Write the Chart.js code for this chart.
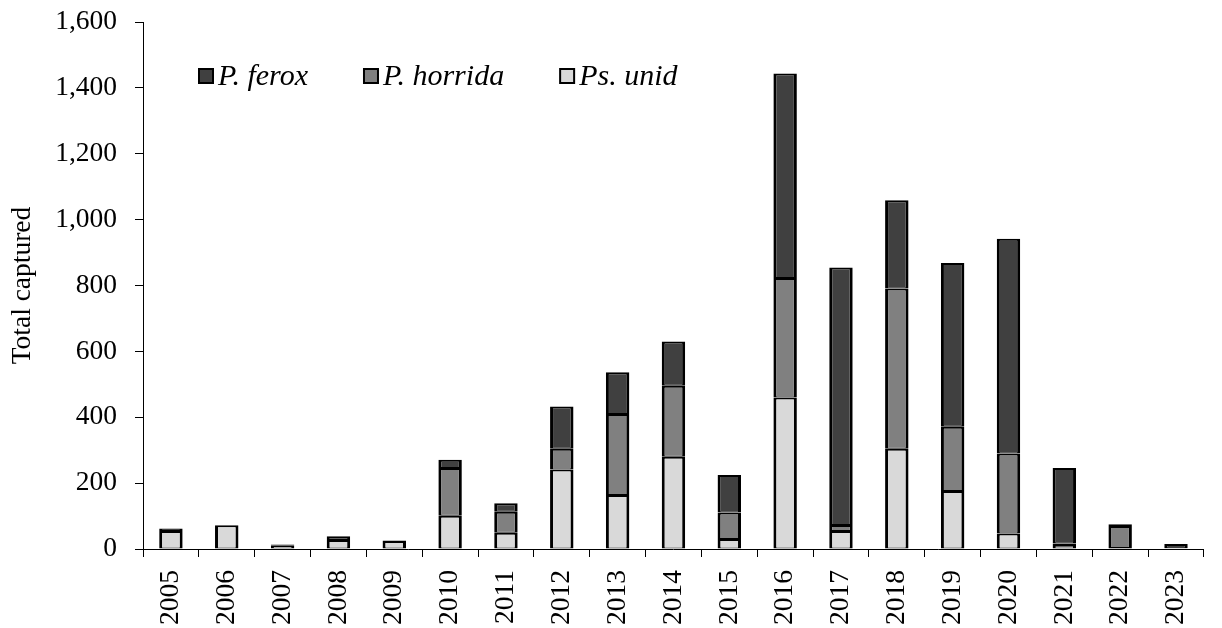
<!DOCTYPE html>
<html>
<head>
<meta charset="utf-8">
<title>Total captured by year</title>
<script src="https://cdn.jsdelivr.net/npm/chart.js@4/dist/chart.umd.min.js"></script>
<style>
  html, body { margin: 0; padding: 0; background: #ffffff; }
  #wrap { width: 1222px; height: 628px; }
</style>
</head>
<body>
<div id="wrap"><canvas id="chart" width="1222" height="628"></canvas></div>
<script>
// Capture counts per year, stacked by species
const years = ['2005', '2006', '2007', '2008', '2009', '2010', '2011', '2012', '2013', '2014',
               '2015', '2016', '2017', '2018', '2019', '2020', '2021', '2022', '2023'];
const psUnid   = [55, 72, 10, 27, 24, 101, 49, 241, 164, 280, 30, 460, 55, 304, 176, 47, 12, 3, 2];
const pHorrida = [0, 0, 0, 0, 0, 145, 64, 63, 246, 216, 81, 363, 18, 487, 195, 243, 5, 67, 0];
const pFerox   = [7, 0, 4, 12, 2, 25, 26, 129, 127, 134, 114, 621, 782, 268, 497, 652, 229, 5, 13];

const yMin = 0;
const yMax = 1600;
const yStep = 200;

const seriesNames = ['Ps. unid', 'P. horrida', 'P. ferox'];
const seriesFills = ['#d9d9d9', '#808080', '#404040'];

const FONT = '"Liberation Serif", "Times New Roman", serif';
const fmt = new Intl.NumberFormat('en-US');

// Legend drawn inside the plot area, top-left, listed from the top of the stack down
const insideLegend = {
  id: 'insideLegend',
  afterDraw(chart) {
    const ctx = chart.ctx;
    const area = chart.chartArea;
    ctx.save();
    ctx.font = 'italic 30px ' + FONT;
    ctx.textBaseline = 'middle';
    ctx.textAlign = 'left';
    let x = area.left + 55;
    const y = 76;
    chart.data.datasets.slice().reverse().forEach(ds => {
      ctx.fillStyle = ds.backgroundColor;
      ctx.fillRect(x + 1, y - 7, 14, 14);
      ctx.strokeStyle = '#000000';
      ctx.lineWidth = 2;
      ctx.strokeRect(x + 1, y - 7, 14, 14);
      ctx.fillStyle = '#000000';
      ctx.fillText(ds.label, x + 20, y + 1);
      x += 20 + ctx.measureText(ds.label).width + 55;
    });
    ctx.restore();
  }
};

const values = [psUnid, pHorrida, pFerox];

new Chart(document.getElementById('chart'), {
  type: 'bar',
  data: {
    labels: years,
    datasets: values.map((v, i) => ({
      label: seriesNames[i],
      data: v,
      backgroundColor: seriesFills[i],
      borderColor: '#000000',
      borderWidth: { left: 3, right: 3, top: 2, bottom: 1 },
      borderSkipped: false,
      categoryPercentage: 1.0,
      barPercentage: 0.42
    }))
  },
  options: {
    responsive: false,
    animation: false,
    layout: { padding: { top: 22, right: 0, bottom: 0, left: 0 } },
    plugins: {
      legend: { display: false },
      tooltip: { enabled: false }
    },
    scales: {
      x: {
        stacked: true,
        offset: true,
        grid: {
          offset: true,
          drawOnChartArea: false,
          drawTicks: true,
          tickLength: 8,
          color: '#000000',
          lineWidth: 1
        },
        border: { display: true, color: '#000000', width: 1 },
        ticks: {
          color: '#000000',
          font: { family: FONT, size: 27.5 },
          minRotation: 90,
          maxRotation: 90,
          padding: 13,
          autoSkip: false
        },
        afterFit(scale) { scale.height = 79; }
      },
      y: {
        stacked: true,
        min: yMin,
        max: yMax,
        grid: {
          drawOnChartArea: false,
          drawTicks: true,
          tickLength: 8,
          color: '#000000',
          lineWidth: 1
        },
        border: { display: true, color: '#000000', width: 1 },
        ticks: {
          stepSize: yStep,
          color: '#000000',
          font: { family: FONT, size: 27.5 },
          padding: 18,
          callback: (v) => fmt.format(v)
        },
        title: {
          display: true,
          text: 'Total captured',
          color: '#000000',
          font: { family: FONT, size: 27.5 },
          padding: { top: 6, bottom: 0 }
        },
        afterFit(scale) {
          scale.width = 143;
          scale.paddingTop = 0;
          scale.paddingBottom = 0;
        }
      }
    }
  },
  plugins: [insideLegend]
});
</script>
</body>
</html>
